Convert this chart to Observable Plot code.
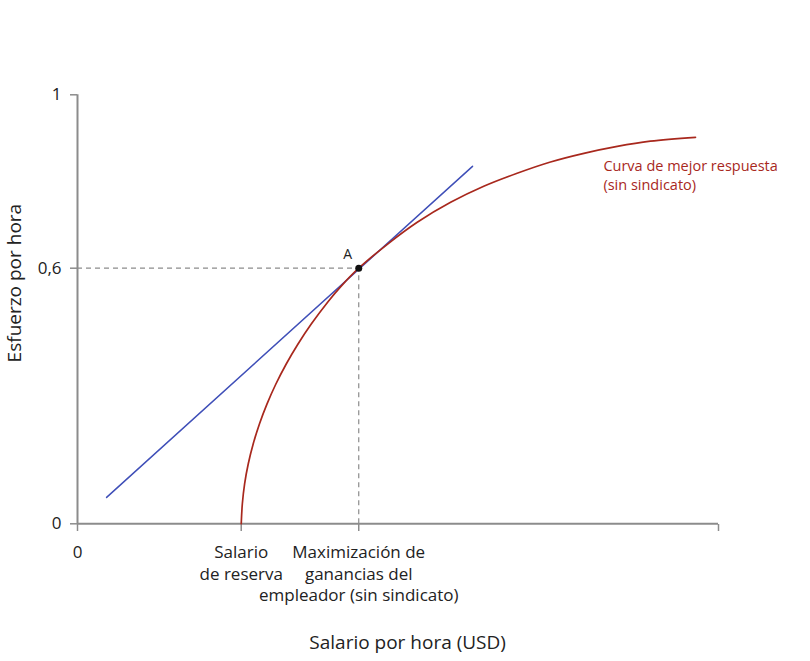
<!DOCTYPE html>
<html>
<head>
<meta charset="utf-8">
<script src="https://cdn.jsdelivr.net/npm/d3@7"></script>
<script src="https://cdn.jsdelivr.net/npm/@observablehq/plot@0.6"></script>
<style>
  html, body { margin: 0; padding: 0; background: #fff; }
  svg { display: block; }
</style>
</head>
<body>
<div id="chart"></div>
<script>
// Wage (x, arbitrary USD units) and effort (y) along the best response curve
const curveWage   = [6.13, 6.172, 6.257, 6.394, 6.58, 6.815, 7.093, 7.419, 7.805, 8.245, 8.765, 9.387, 9.874, 10.53, 11.66, 12.72, 13.97, 15.21, 16.46, 17.71, 18.96, 20.21, 21.45, 23.14];
const curveEffort = [0.000, 0.047, 0.094, 0.141, 0.188, 0.235, 0.281, 0.327, 0.374, 0.421, 0.470, 0.522, 0.558, 0.600, 0.658, 0.706, 0.752, 0.789, 0.819, 0.845, 0.865, 0.881, 0.893, 0.902];

// Isocost (tangent) line end points
const lineWage   = [1.09, 14.79];
const lineEffort = [0.062, 0.835];

// Point A
const pointA = {wage: 10.53, effort: 0.6, label: "A"};

// Axis ticks
const xTickVals = [0, 6.13, 10.53, 24];
const xTickLabels = ["0", "Salario\nde reserva", "Maximización de\nganancias del\nempleador (sin sindicato)", ""];
const yTickVals = [0, 0.6, 1];
const yTickLabels = ["0", "0,6", "1"];

const xTitle = "Salario por hora (USD)";
const yTitle = "Esfuerzo por hora";
const curveLabel = "Curva de mejor respuesta\n(sin sindicato)";

const curveData = curveWage.map((w, i) => ({wage: w, effort: curveEffort[i]}));
const lineData = lineWage.map((w, i) => ({wage: w, effort: lineEffort[i]}));
const xTicks = xTickVals.map((v, i) => ({v, label: xTickLabels[i]}));
const yTicks = yTickVals.map((v, i) => ({v, label: yTickLabels[i]}));

const RED = "#a8281d";
const BLUE = "#3f4fb8";
const AXIS = "#8c8c8c";
const FONT = "'Open Sans', sans-serif";

const chart = Plot.plot({
  width: 810,
  height: 661,
  marginTop: 94,
  marginBottom: 137,
  marginLeft: 77,
  marginRight: 92,
  style: {fontFamily: FONT, fontSize: "16px", color: "#222", background: "#fff"},
  x: {type: "linear", domain: [0, 24], axis: null},
  y: {type: "linear", domain: [0, 0.6, 1], range: [523.3, 267.7, 94.3], axis: null},
  marks: [
    // dashed guides
    Plot.ruleY([pointA], {y: "effort", x1: 0, x2: "wage", stroke: AXIS, strokeDasharray: "5,4", strokeWidth: 1.2}),
    Plot.ruleX([pointA], {x: "wage", y1: 0, y2: "effort", stroke: AXIS, strokeDasharray: "5,4", strokeWidth: 1.2}),
    // axes lines
    Plot.ruleY([0], {stroke: AXIS, strokeWidth: 2}),
    Plot.ruleX([0], {y1: 0, y2: 1, stroke: AXIS, strokeWidth: 2}),
    // ticks
    Plot.axisX({ticks: xTickVals, tickSize: 7, tickFormat: () => "", stroke: AXIS, strokeWidth: 1.5}),
    Plot.axisY({ticks: yTickVals, tickSize: 7, tickFormat: () => "", stroke: AXIS, strokeWidth: 1.5}),
    // tick labels
    Plot.text(yTicks, {x: 0, y: "v", text: "label", textAnchor: "end", dx: -16, fontSize: 17, fill: "#222"}),
    Plot.text(xTicks, {x: "v", y: 0, text: "label", textAnchor: "middle", lineAnchor: "top", dy: 19, lineHeight: 1.27, fontSize: 17, fill: "#222"}),
    // lines
    Plot.line(lineData, {x: "wage", y: "effort", stroke: BLUE, strokeWidth: 1.5}),
    Plot.line(curveData, {x: "wage", y: "effort", stroke: RED, strokeWidth: 1.7, curve: "catmull-rom"}),
    Plot.dot([pointA], {x: "wage", y: "effort", r: 3.5, fill: "#111", stroke: "none"}),
    Plot.text([pointA], {x: "wage", y: "effort", text: "label", dx: -11, dy: -14, fontSize: 14, fill: "#222"}),
    // curve label
    Plot.text([curveLabel], {x: [19.69], y: [0.854], text: d => d, textAnchor: "start", lineAnchor: "top", lineHeight: 1.3, fontSize: 14.5, fill: RED}),
    // axis titles
    Plot.text([xTitle], {x: [12.36], y: [0], text: d => d, textAnchor: "middle", lineAnchor: "bottom", dy: 125, fontSize: 19, fill: "#222"}),
    Plot.text([yTitle], {x: [0], y: [0.565], text: d => d, textAnchor: "middle", rotate: -90, dx: -63, fontSize: 19, fill: "#222"})
  ]
});
document.getElementById("chart").appendChild(chart);
</script>
</body>
</html>
